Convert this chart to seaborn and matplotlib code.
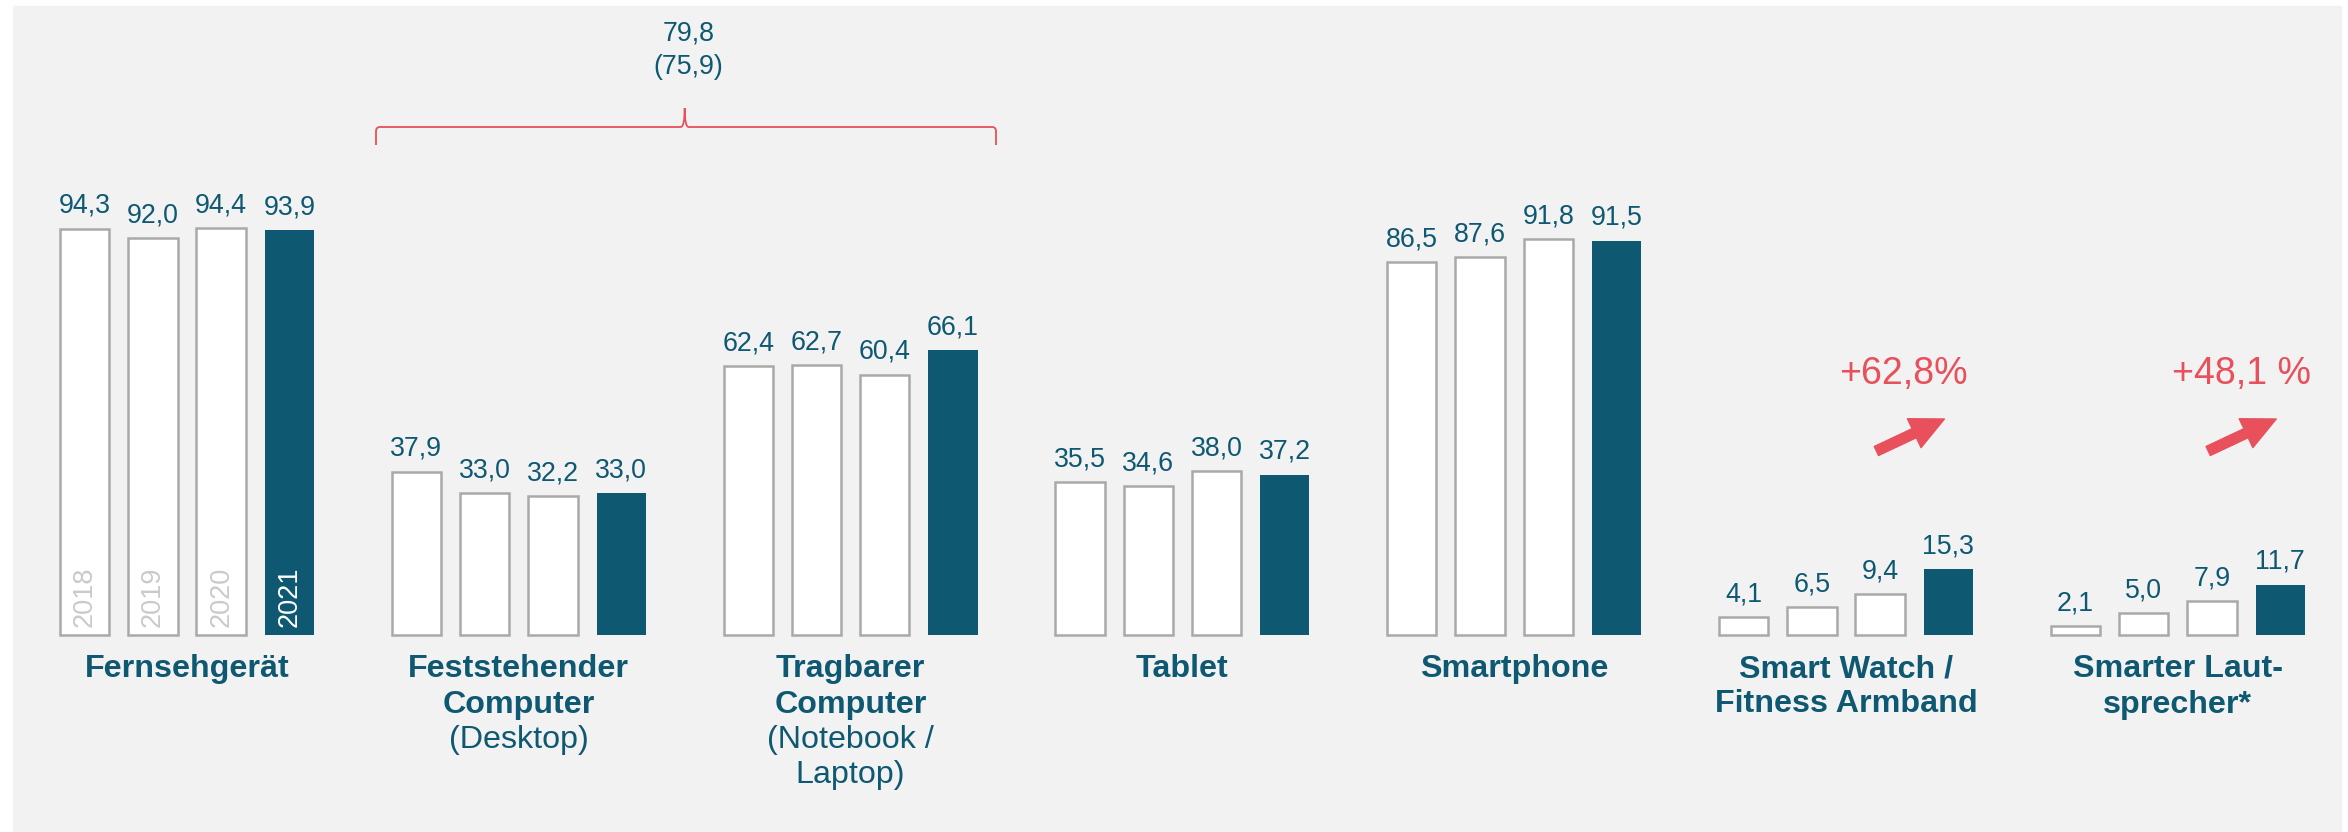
import pandas as pd
import seaborn as sns
import matplotlib.pyplot as plt
from matplotlib.patches import Rectangle
from matplotlib.path import Path
from matplotlib.patches import PathPatch

# data
categories = ["Fernsehgerät", "Feststehender Computer", "Tragbarer Computer", "Tablet",
              "Smartphone", "Smart Watch", "Smarter Lautsprecher"]
years = ["2018", "2019", "2020", "2021"]
v2018 = [94.3, 37.9, 62.4, 35.5, 86.5, 4.1, 2.1]
v2019 = [92.0, 33.0, 62.7, 34.6, 87.6, 6.5, 5.0]
v2020 = [94.4, 32.2, 60.4, 38.0, 91.8, 9.4, 7.9]
v2021 = [93.9, 33.0, 66.1, 37.2, 91.5, 15.3, 11.7]

label_bold = [["Fernsehgerät"], ["Feststehender", "Computer"], ["Tragbarer", "Computer"],
              ["Tablet"], ["Smartphone"], ["Smart Watch /", "Fitness Armband"],
              ["Smarter Laut-", "sprecher*"]]
label_sub = [[], ["(Desktop)"], ["(Notebook /", "Laptop)"], [], [], [], []]

bracket_text = ["79,8", "(75,9)"]
growth = {5: "+62,8%", 6: "+48,1 %"}

TEAL = "#0e5871"
RED = "#e8505b"
GREY_EDGE = "#a9a9a9"
BG = "#f2f2f2"

rows = []
for yr, vals in zip(years, [v2018, v2019, v2020, v2021]):
    for c, v in zip(categories, vals):
        rows.append({"cat": c, "year": yr, "value": v})
df = pd.DataFrame(rows)

sns.set_theme(style="white")
plt.rcParams["font.family"] = ["Liberation Sans", "DejaVu Sans"]

W, H = 2348, 832
fig = plt.figure(figsize=(W / 100, H / 100), dpi=100)
fig.patch.set_facecolor("white")
fig.patches.append(Rectangle((13 / W, 0), (2341 - 13) / W, (H - 6) / H,
                             transform=fig.transFigure, color=BG, zorder=-5))
ax = fig.add_axes([0, 0, 1, 1])
ax.set_facecolor("none")

sns.barplot(data=df, x="cat", y="value", hue="year", order=categories,
            palette=["white", "white", "white", TEAL], saturation=1,
            width=0.823, gap=0.277, legend=False, ax=ax)

# pixel mapping
x0_px, step_px = 187.0, 331.8
base_px, ppu = 635.0, 4.31
ax.set_xlim(-x0_px / step_px, (W - x0_px) / step_px)
ax.set_ylim(-(H - base_px) / ppu, base_px / ppu)
ax.axis("off")


def ypx(p):
    return (base_px - p) / ppu


def xpx(p):
    return (p - x0_px) / step_px


for i, cont in enumerate(ax.containers):
    for bar in cont:
        if i < 3:
            bar.set_edgecolor(GREY_EDGE)
            bar.set_linewidth(1.8)
        else:
            bar.set_linewidth(0)
    vals = [v2018, v2019, v2020, v2021][i]
    ax.bar_label(cont, labels=[f"{v:.1f}".replace(".", ",") for v in vals],
                 padding=7, color=TEAL, fontsize=19.3)
    # year labels inside the first group
    b = cont[0]
    ax.text(b.get_x() + b.get_width() / 2, 1.8, years[i], rotation=90,
            ha="center", va="bottom", fontsize=19.5,
            color="white" if i == 3 else "#cacaca")

# category labels
for g in range(len(categories)):
    lines = [(t, "bold") for t in label_bold[g]] + [(t, "normal") for t in label_sub[g]]
    for k, (t, w) in enumerate(lines):
        ax.text(g, ypx(669 + 35.5 * k), t, ha="center", va="center",
                fontsize=23.2, fontweight=w, color=TEAL)

# bracket over computers
xl, xr = xpx(376), xpx(996)
xm = (1 + 2) / 2
yb, yh, yt = ypx(145), ypx(127), ypx(108)
r = 0.012
d = 1.0
verts = [(xl, yb), (xl, yh - d), (xl, yh), (xl + r, yh),
         (xm - r, yh), (xm, yh), (xm, yt),
         (xm, yh), (xm + r, yh),
         (xr - r, yh), (xr, yh), (xr, yh - d), (xr, yb)]
codes = [Path.MOVETO, Path.LINETO, Path.CURVE3, Path.CURVE3,
         Path.LINETO, Path.CURVE3, Path.CURVE3,
         Path.CURVE3, Path.CURVE3,
         Path.LINETO, Path.CURVE3, Path.CURVE3, Path.LINETO]
ax.add_patch(PathPatch(Path(verts, codes), fill=False, edgecolor=RED, lw=1.3))
ax.text(xm + 0.012, ypx(33), bracket_text[0], ha="center", va="center", fontsize=19.3, color=TEAL)
ax.text(xm + 0.012, ypx(67), bracket_text[1], ha="center", va="center", fontsize=19.3, color=TEAL)

# growth arrows
text_dx = {5: -45, 6: -39}
for g, txt in growth.items():
    tip_x = ax.containers[3][g].get_x() + ax.containers[3][g].get_width() / 2
    ax.annotate("", xy=(tip_x - 4 / step_px, ypx(419)), xytext=(tip_x - 72 / step_px, ypx(451)),
                arrowprops=dict(arrowstyle="simple,head_length=1.2,head_width=1.15,tail_width=0.36",
                                color=RED, shrinkA=0, shrinkB=0, mutation_scale=20))
    ax.text(tip_x + text_dx[g] / step_px, ypx(374), txt, ha="center", va="center",
            fontsize=27, color=RED)

fig.savefig("out.png", dpi=100, facecolor=fig.get_facecolor())
